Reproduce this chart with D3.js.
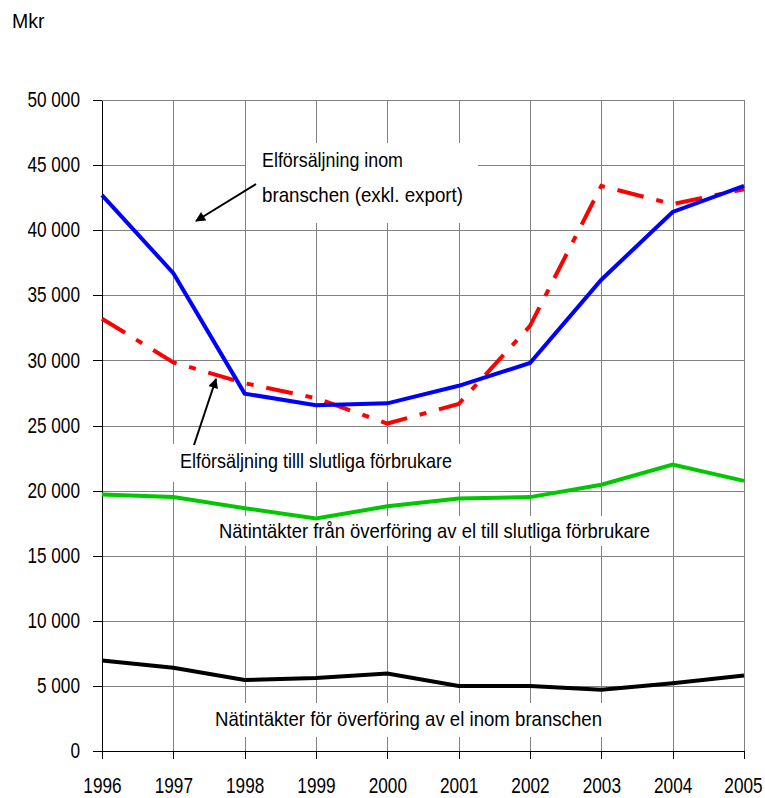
<!DOCTYPE html>
<html>
<head>
<meta charset="utf-8">
<script src="https://cdn.jsdelivr.net/npm/d3@7"></script>
<style>
  html, body { margin: 0; padding: 0; background: #fff; }
  svg { display: block; font-family: "Liberation Sans", Arial, sans-serif; }
</style>
</head>
<body>
<svg id="chart" width="765" height="798"></svg>
<script>
// Years on the horizontal axis
const years = [1996, 1997, 1998, 1999, 2000, 2001, 2002, 2003, 2004, 2005];

// Series values, Mkr
const salesWithinIndustry = [42700, 36700, 27450, 26550, 26700, 28050, 29800, 36200, 41400, 43400];
const salesToEndUsers     = [33200, 29850, 28250, 27100, 25150, 26650, 32650, 43400, 42000, 43150];
const gridRevenueEndUsers = [19700, 19500, 18650, 17850, 18800, 19400, 19500, 20450, 22000, 20750];
const gridRevenueIndustry = [6950, 6400, 5450, 5600, 5950, 5000, 5000, 4700, 5200, 5800];

// Value axis ticks
const yTicks = [0, 5000, 10000, 15000, 20000, 25000, 30000, 35000, 40000, 45000, 50000];

const svg = d3.select("#chart");
const plotLeft = 102, plotRight = 744, plotTop = 100, plotBottom = 751;
const tickFont = 21.5;
const labelFont = 21;
const narrow = 0.8; // horizontal squeeze of the condensed lettering

const x = d3.scaleLinear().domain([1996, 2005]).range([plotLeft, plotRight]);
const y = d3.scaleLinear().domain([0, 50000]).range([plotBottom, plotTop]);

const locale = d3.formatLocale({ decimal: ",", thousands: " ", grouping: [3], currency: ["", ""] });
const fmt = locale.format(",d");

// Grid
const grid = svg.append("g").attr("stroke", "#808080").attr("stroke-width", 1).attr("shape-rendering", "crispEdges");
grid.selectAll("line.h").data(yTicks.filter(d => d > 0)).join("line")
  .attr("x1", plotLeft).attr("x2", plotRight)
  .attr("y1", d => Math.round(y(d)) + 0.5).attr("y2", d => Math.round(y(d)) + 0.5);
grid.selectAll("line.v").data(years.slice(1)).join("line")
  .attr("x1", d => Math.round(x(d)) + 0.5).attr("x2", d => Math.round(x(d)) + 0.5)
  .attr("y1", plotTop).attr("y2", plotBottom);

// White label panels (they interrupt the grid)
const panels = [
  { x: 246, y: 143, w: 232, h: 80 },
  { x: 166, y: 444, w: 302, h: 38 },
  { x: 210, y: 516, w: 450, h: 30 },
  { x: 207, y: 703, w: 402, h: 34 }
];
svg.append("g").selectAll("rect").data(panels).join("rect")
  .attr("x", d => d.x).attr("y", d => d.y).attr("width", d => d.w).attr("height", d => d.h)
  .attr("fill", "#fff");

// Axes
const yAxis = d3.axisLeft(y).tickValues(yTicks).tickFormat(fmt).tickSize(9).tickSizeOuter(0);
const gy = svg.append("g").attr("transform", `translate(${plotLeft},0)`).call(yAxis);
gy.selectAll("text").attr("x", -22).attr("dy", "0.31em");
const xAxis = d3.axisBottom(x).tickValues(years).tickFormat(d3.format("d")).tickSize(8).tickSizeOuter(0);
const gx = svg.append("g").attr("transform", `translate(0,${plotBottom})`).call(xAxis);
gx.selectAll("text").attr("y", 42).attr("dy", 0);
[gy, gx].forEach(g => {
  g.selectAll("path, line").attr("stroke", "#000").attr("stroke-width", 1).attr("shape-rendering", "crispEdges");
  g.selectAll("text").attr("font-size", tickFont).attr("fill", "#000")
    .attr("font-family", "'Liberation Sans', Arial, sans-serif")
    .each(function () {
      const w = this.getComputedTextLength();
      d3.select(this).attr("textLength", w * narrow).attr("lengthAdjust", "spacingAndGlyphs");
    });
});
// The last year sits at the right edge: anchor it by its end so it stays inside the frame
gx.selectAll("text").filter(d => d === years[years.length - 1])
  .each(function () {
    const len = +this.getAttribute("textLength");
    d3.select(this).attr("text-anchor", "end").attr("x", len / 2 - 1);
  });

// Unit label
svg.append("text").attr("x", 12).attr("y", 28).attr("font-size", 19.5).attr("fill", "#000").text("Mkr");

// Lines
const line = d3.line().x((d, i) => x(years[i])).y(d => y(d));
const series = [
  { values: gridRevenueIndustry, color: "#000000", dash: null },
  { values: gridRevenueEndUsers, color: "#00C800", dash: null },
  { values: salesToEndUsers,     color: "#FF0000", dash: "27,13,7,13" },
  { values: salesWithinIndustry, color: "#0000FF", dash: null }
];
svg.append("g").selectAll("path").data(series).join("path")
  .attr("d", d => line(d.values))
  .attr("fill", "none")
  .attr("stroke", d => d.color)
  .attr("stroke-width", 4)
  .attr("stroke-dasharray", d => d.dash);

// Series labels
const labels = [
  { text: "Elförsäljning inom", x: 262, y: 167, len: 141 },
  { text: "branschen (exkl. export)", x: 262, y: 202, len: 201 },
  { text: "Elförsäljning tilll slutliga förbrukare", x: 180, y: 468, len: 272 },
  { text: "Nätintäkter från överföring av el till slutliga förbrukare", x: 219, y: 538, len: 431 },
  { text: "Nätintäkter för överföring av el inom branschen", x: 215, y: 726, len: 387 }
];
svg.append("g").selectAll("text").data(labels).join("text")
  .attr("x", d => d.x).attr("y", d => d.y)
  .attr("textLength", d => d.len).attr("lengthAdjust", "spacingAndGlyphs")
  .attr("font-size", labelFont).attr("fill", "#000")
  .text(d => d.text);

// Pointer arrows
svg.append("defs").append("marker")
  .attr("id", "head").attr("viewBox", "0 0 10 10").attr("refX", 9).attr("refY", 5)
  .attr("markerWidth", 6).attr("markerHeight", 5).attr("markerUnits", "strokeWidth")
  .attr("orient", "auto")
  .append("path").attr("d", "M0,0 L10,5 L0,10 Z").attr("fill", "#000");
const arrows = [
  { x1: 256, y1: 184, x2: 196, y2: 221 },
  { x1: 194, y1: 445, x2: 216, y2: 379 }
];
svg.append("g").selectAll("line").data(arrows).join("line")
  .attr("x1", d => d.x1).attr("y1", d => d.y1).attr("x2", d => d.x2).attr("y2", d => d.y2)
  .attr("stroke", "#000").attr("stroke-width", 2).attr("marker-end", "url(#head)");
</script>
</body>
</html>
